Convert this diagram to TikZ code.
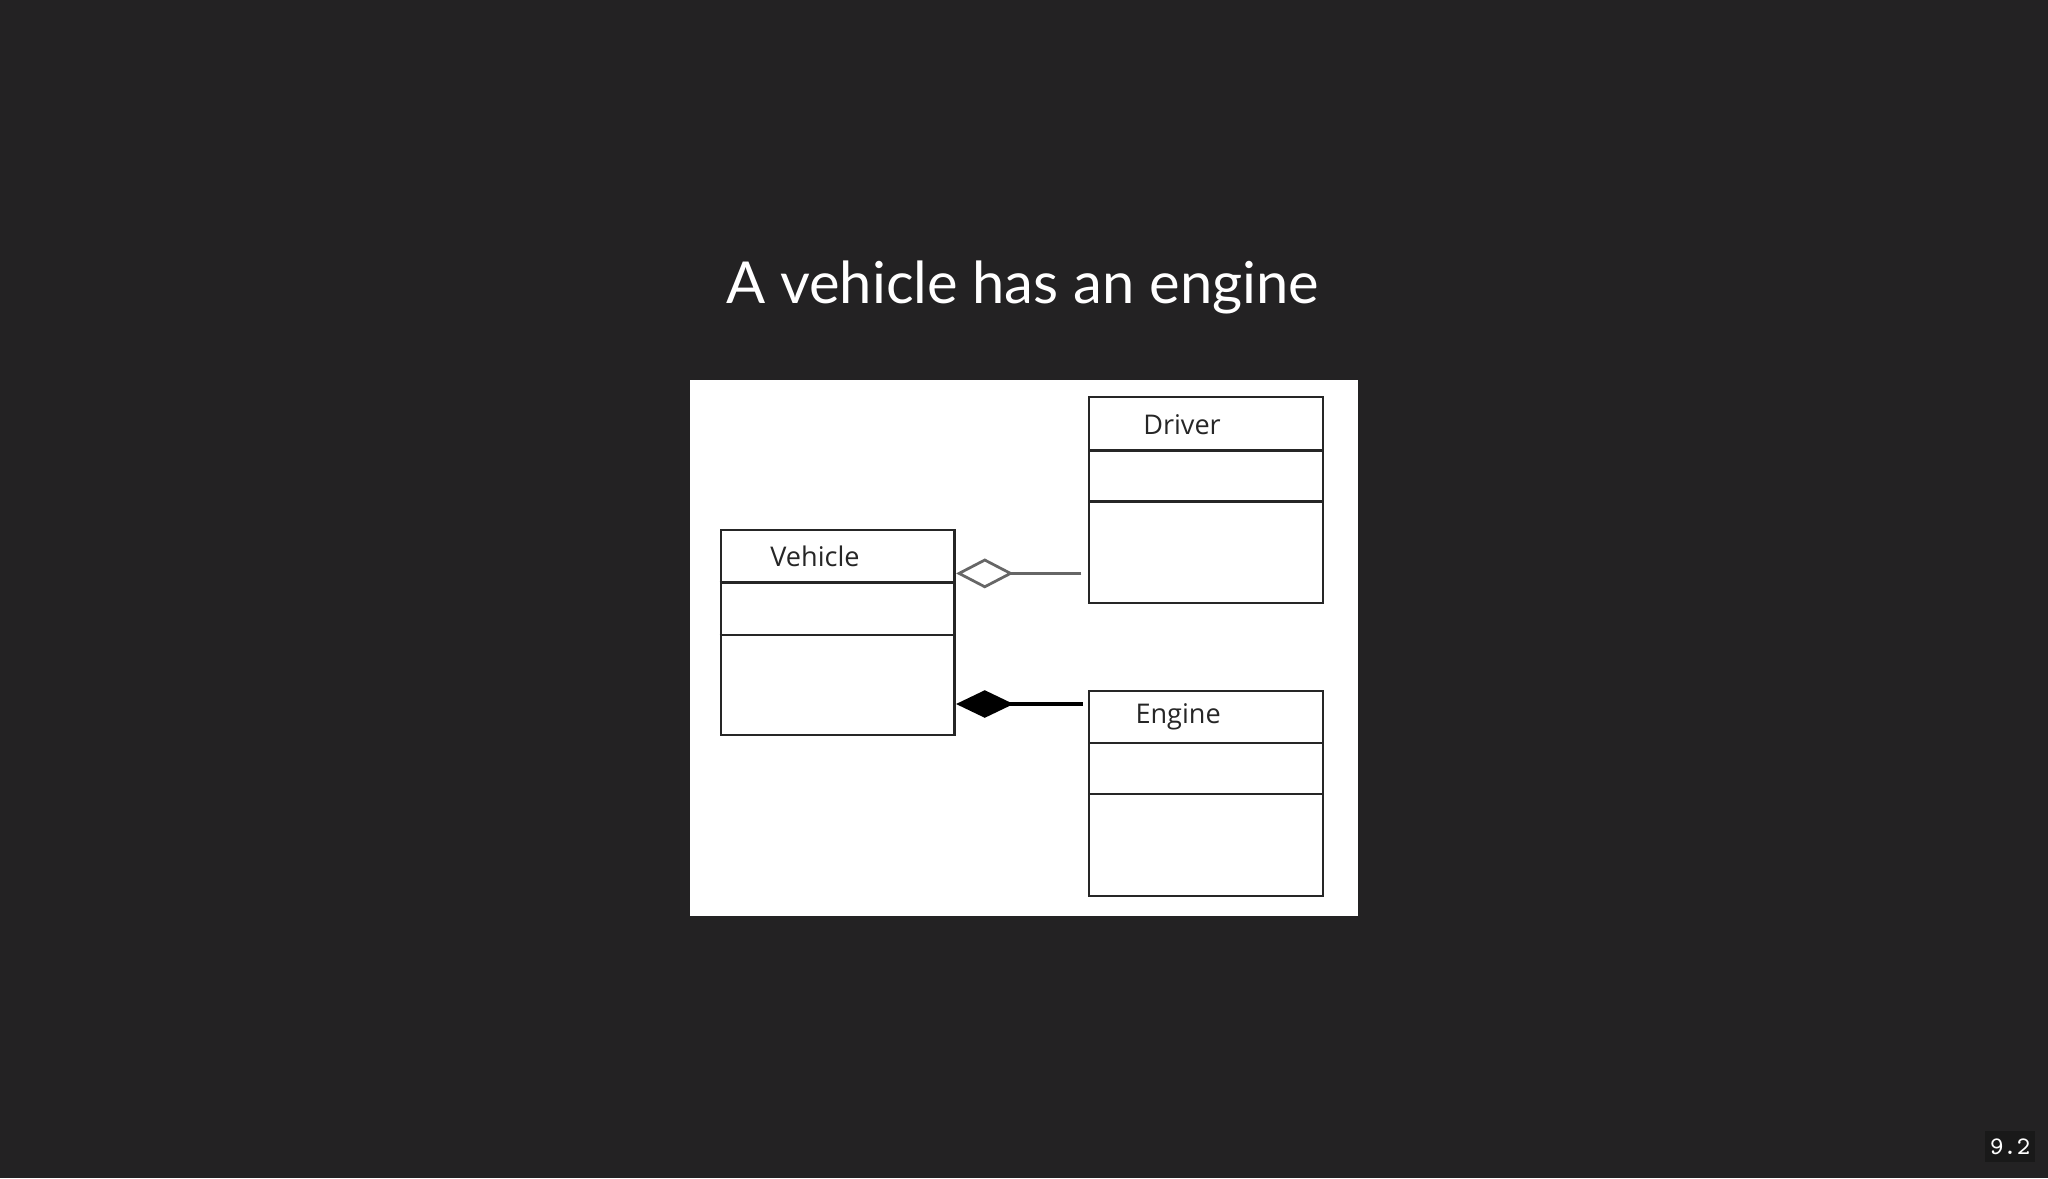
\documentclass[tikz,border=0pt]{standalone}
\usepackage{fontspec}
\setmainfont{Lato}
\newfontfamily\diagfont{Open Sans}
\usetikzlibrary{arrows.meta}
\definecolor{bg}{HTML}{232223}
\tikzset{
  umlbox/.style={draw=black!85,line width=0.5pt,minimum width=179*0.01cm,inner sep=0pt},
  lbl/.style={font=\diagfont\fontsize{5.9}{7}\selectfont,text=black!85,inner sep=0pt},
}
\begin{document}
\begin{tikzpicture}[x=0.01cm,y=-0.01cm]
\fill[bg] (0,0) rectangle (1568,902);
\useasboundingbox (0,0) rectangle (1568,902);
\node[text=white,font=\fontsize{12.6}{15}\selectfont,inner sep=0pt] (title) at (783,220) {A vehicle has an engine};
\fill[white] (528,291) rectangle (1040,701);
% Vehicle
\node[umlbox,minimum height=157*0.01cm,anchor=north west] (veh) at (551,405) {};
\draw[black!85,line width=0.5pt] (551,446) -- (730,446) (551,486) -- (730,486);
\node[lbl] (vehl) at (624,426) {Vehicle};
% Driver
\node[umlbox,minimum height=158*0.01cm,anchor=north west] (drv) at (833,303) {};
\draw[black!85,line width=0.5pt] (833,345) -- (1012,345) (833,384) -- (1012,384);
\node[lbl] (drvl) at (905,325) {Driver};
% Engine
\node[umlbox,minimum height=157*0.01cm,anchor=north west] (eng) at (833,528) {};
\draw[black!85,line width=0.5pt] (833,569) -- (1012,569) (833,608) -- (1012,608);
\node[lbl] (engl) at (902,549) {Engine};
% connectors
\coordinate (a1) at (732,439);
\coordinate (a2) at (732,539);
\draw[black!60,line width=0.5pt,-{Diamond[open,length=12.5pt,width=6.5pt,line width=0.6pt]}] ([xshift=-5*0.01cm]drv.west |- a1) -- (a1);
\draw[black,line width=0.9pt,-{Diamond[length=12.5pt,width=6pt]}] ([xshift=-4*0.01cm]eng.west |- a2) -- (a2);
% page number
\node[fill=black!90,text=white!85,font=\ttfamily\fontsize{5.5}{6}\selectfont,minimum width=38*0.01cm,minimum height=24*0.01cm,inner sep=0pt] (pg) at (1539,878) {9.2};
\end{tikzpicture}
\end{document}
